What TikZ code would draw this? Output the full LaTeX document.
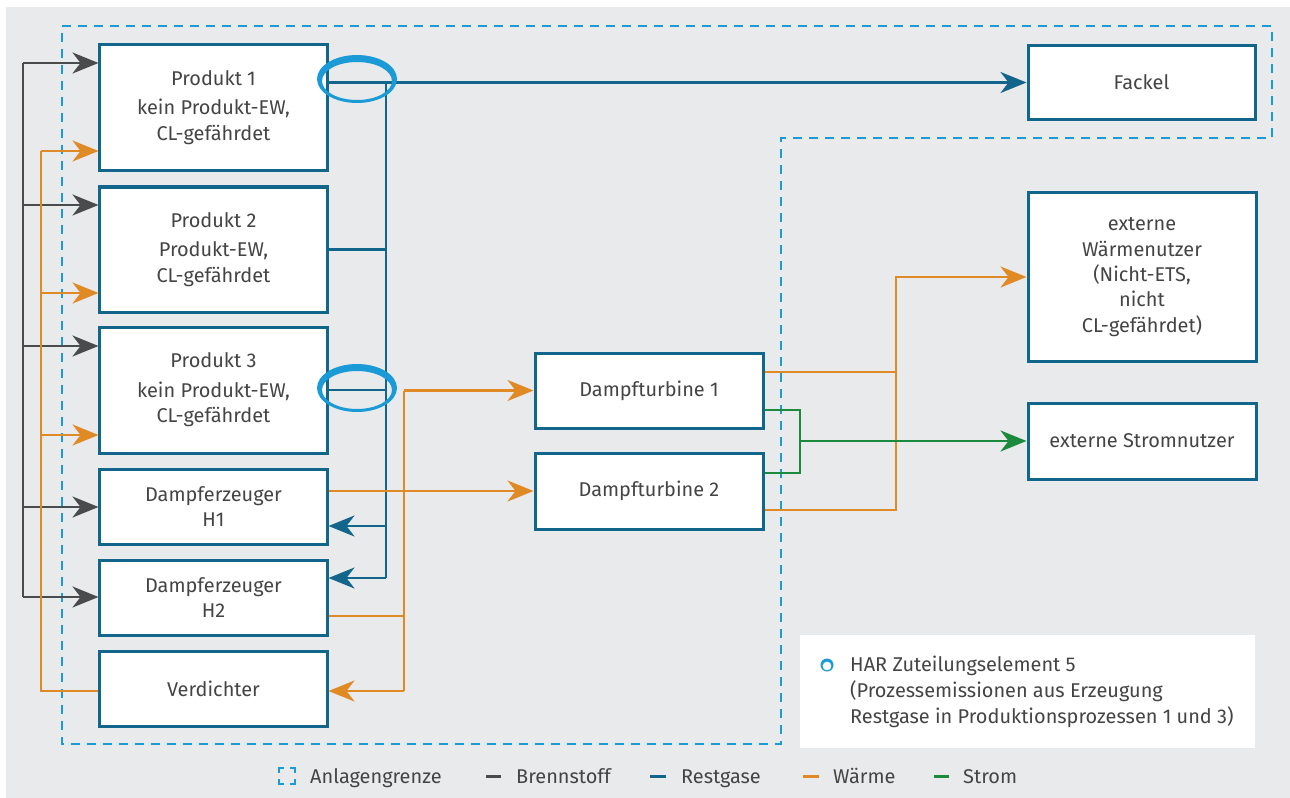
\documentclass[tikz,border=0pt]{standalone}
\usepackage{fontspec}
\setmainfont{Fira Sans}
\usetikzlibrary{arrows.meta,calc}
\definecolor{bg}{HTML}{E9EAEC}
\definecolor{boxc}{HTML}{12668C}
\definecolor{txt}{HTML}{444444}
\definecolor{fuelc}{HTML}{4A4B4D}
\definecolor{restc}{HTML}{12668C}
\definecolor{heatc}{HTML}{E08A26}
\definecolor{powc}{HTML}{1B8A3C}
\definecolor{limc}{HTML}{1A9AD6}
\begin{document}
\begin{tikzpicture}[x=1bp,y=-1bp,
  box/.style={draw=boxc,line width=3bp,fill=white,text=txt,align=center,
    inner sep=0pt,font=\fontsize{20}{25.5}\selectfont},
  conn/.style={line width=2.6bp},
  tip/.style={-{Stealth[length=26bp,width=21bp,inset=8bp]}},
  fuel/.style={conn,draw=fuelc},
  rest/.style={conn,draw=restc},
  heat/.style={conn,draw=heatc},
  pow/.style={conn,draw=powc},
  ltxt/.style={text=txt,font=\fontsize{20}{26}\selectfont,inner sep=0pt},
]
\useasboundingbox (0,0) rectangle (1290,798);
\fill[white] (0,0) rectangle (1290,798);
\fill[bg] (6,7) rectangle (1290,798);

% installation boundary
\draw[limc,line width=2.8bp,dash pattern=on 9bp off 7bp]
  (62,26) -- (1272,26) -- (1272,138) -- (781,138) -- (781,744) -- (62,744) -- cycle;

% boxes
\node[box,minimum width=227bp,minimum height=125bp] (p1) at (213.5,107.5)
  {Produkt 1\\[4bp]kein Produkt-EW,\\CL-gefährdet};
\node[box,minimum width=227bp,minimum height=125bp] (p2) at (213.5,249.5)
  {Produkt 2\\[4bp]Produkt-EW,\\CL-gefährdet};
\node[box,minimum width=227bp,minimum height=126bp] (p3) at (213.5,390)
  {Produkt 3\\[4bp]kein Produkt-EW,\\CL-gefährdet};
\node[box,minimum width=227bp,minimum height=75bp] (h1) at (213.5,506.5)
  {Dampferzeuger\\H1};
\node[box,minimum width=227bp,minimum height=75bp] (h2) at (213.5,597.5)
  {Dampferzeuger\\H2};
\node[box,minimum width=227bp,minimum height=75bp] (verd) at (213.5,688.5)
  {Verdichter};
\node[box,minimum width=228bp,minimum height=75bp] (dt1) at (649,390.5)
  {Dampfturbine 1};
\node[box,minimum width=228bp,minimum height=76bp] (dt2) at (649,491)
  {Dampfturbine 2};
\node[box,minimum width=227bp,minimum height=73bp] (fackel) at (1141.5,82.5)
  {Fackel};
\node[box,minimum width=228bp,minimum height=168bp] (wn) at (1142,277)
  {externe\\Wärmenutzer\\(Nicht-ETS,\\nicht\\CL-gefährdet)};
\node[box,minimum width=228bp,minimum height=76bp] (sn) at (1142,441)
  {externe Stromnutzer};

% coordinates
\coordinate (g1) at (23,63);
\coordinate (g2) at (23,205);
\coordinate (g3) at (23,346);
\coordinate (g4) at (23,507);
\coordinate (g5) at (23,597);
\coordinate (o1) at (41,151);
\coordinate (o2) at (41,293);
\coordinate (o3) at (41,435);
\coordinate (o4) at (41,691);
\coordinate (r1) at (386,82.5);
\coordinate (r4) at (386,526);
\coordinate (r5) at (386,578);
\coordinate (m1) at (404,390.5);
\coordinate (m3) at (404,616);
\coordinate (m4) at (404,691);
\coordinate (w1) at (896,372);
\coordinate (w2) at (896,510);
\coordinate (s1) at (800,410);
\coordinate (s2) at (800,473);

% Brennstoff
\draw[fuel] (g1) -- (g5);
\foreach \i/\n in {1/p1,2/p2,3/p3,4/h1,5/h2}
  \draw[fuel,tip] (g\i) -- (g\i -| \n.west);

% Waerme left
\draw[heat] (o4 -| verd.west) -- (o4) -- (o1);
\foreach \i/\n in {1/p1,2/p2,3/p3}
  \draw[heat,tip] (o\i) -- (o\i -| \n.west);

% Restgase
\draw[rest] (r1) -- (r5);
\draw[rest,tip] (p1.east |- r1) -- (fackel.west);
\draw[rest] (p2.east) -- (p2.east -| r1);
\draw[rest] (p3.east) -- (p3.east -| r1);
\draw[rest,tip] (r4) -- (r4 -| h1.east);
\draw[rest,tip] (r5) -- (r5 -| h2.east);

% Waerme middle
\draw[heat] (m1) -- (m4);
\draw[heat,tip] (m1) -- (dt1.west);
\draw[heat,tip] (h1.east |- dt2.west) -- (dt2.west);
\draw[heat] (m3 -| h2.east) -- (m3);
\draw[heat,tip] (m4) -- (m4 -| verd.east);

% Waerme right
\draw[heat] (w1 -| dt1.east) -- (w1);
\draw[heat,tip] (w2 -| dt2.east) -- (w2) -- (w2 |- wn.west) -- (wn.west);

% Strom
\draw[pow] (s1 -| dt1.east) -- (s1) -- (s2) -- (s2 -| dt2.east);
\draw[pow,tip] (s1 |- sn.west) -- (sn.west);

% HAR rings
\foreach \cx/\cy in {357/79,357/388}{
  \fill[limc,even odd rule] (\cx,\cy) ellipse [x radius=40bp,y radius=24bp]
    (\cx,\cy+2) ellipse [x radius=35bp,y radius=19bp];
}

% legend box
\node[fill=white,minimum width=455bp,minimum height=113bp,inner sep=0pt] (lbox) at (1027.5,691.5) {};
\fill[limc,even odd rule] (827,665) circle [radius=6.5bp] (827,666) circle [radius=4.5bp];
\node[ltxt,anchor=north west,align=left] (ltext) at (850,656)
  {HAR Zuteilungselement 5\\(Prozessemissionen aus Erzeugung\\Restgase in Produktionsprozessen 1 und 3)};

% bottom legend
\draw[limc,line width=2.5bp]
  (279,773) -- (279,768) -- (284,768)
  (290,768) -- (295,768) -- (295,773)
  (295,779) -- (295,784) -- (290,784)
  (284,784) -- (279,784) -- (279,779);
\node[ltxt,anchor=base west] (l1) at (310,783) {Anlagengrenze};
\draw[fuelc,line width=3bp] (486,776) -- (501,776);
\node[ltxt,anchor=base west] (l2) at (516,783) {Brennstoff};
\draw[restc,line width=3bp] (650,776) -- (666,776);
\node[ltxt,anchor=base west] (l3) at (681,783) {Restgase};
\draw[heatc,line width=3bp] (803,776) -- (819,776);
\node[ltxt,anchor=base west] (l4) at (833,783) {Wärme};
\draw[powc,line width=3bp] (934,776) -- (949,776);
\node[ltxt,anchor=base west] (l5) at (963,783) {Strom};
\end{tikzpicture}
\end{document}
